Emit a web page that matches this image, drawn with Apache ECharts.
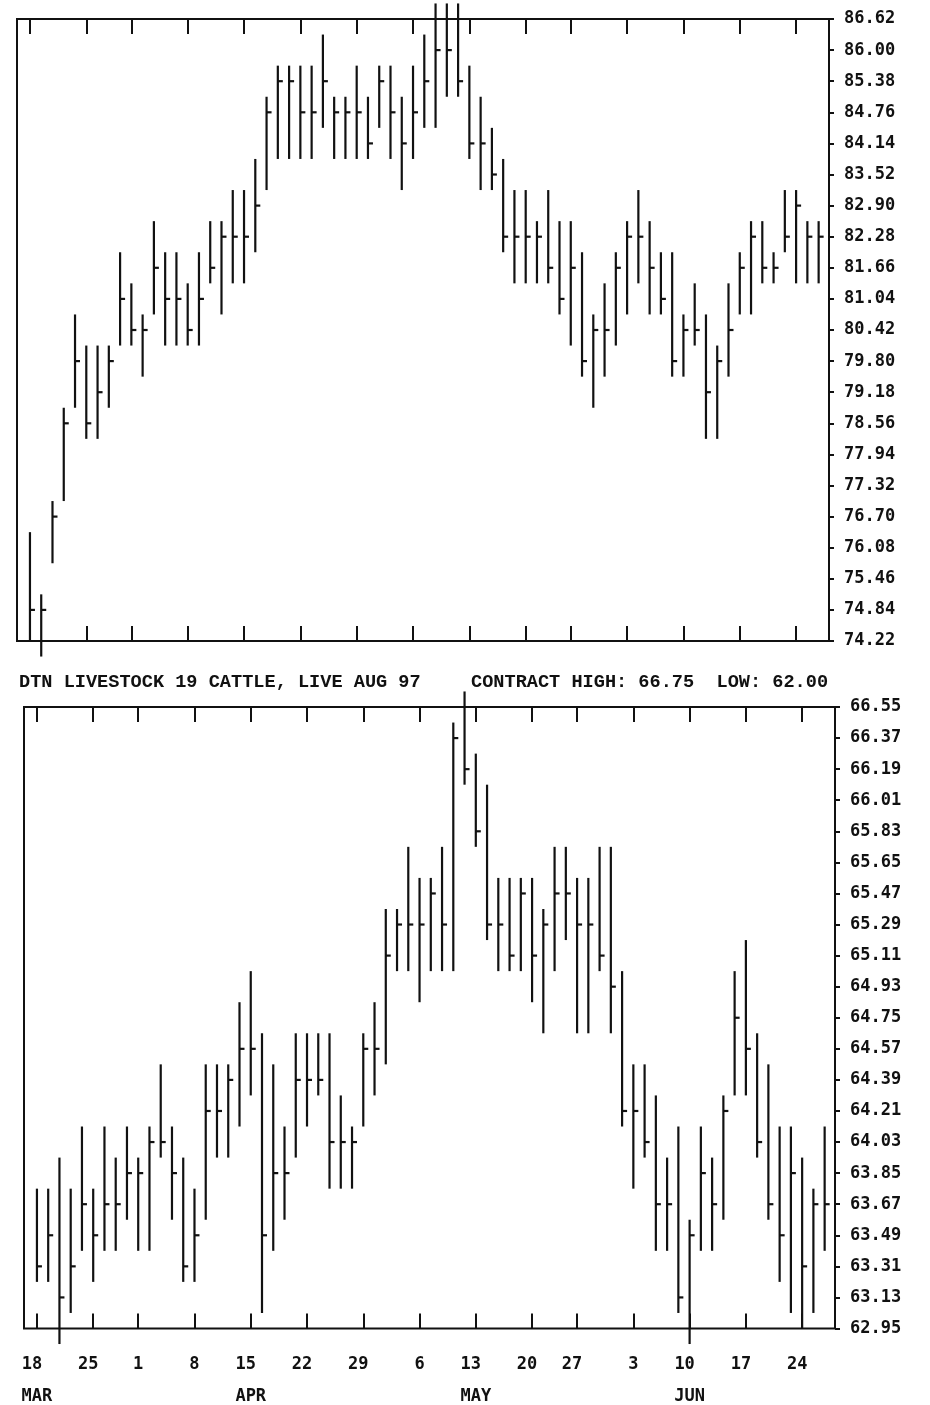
<!DOCTYPE html>
<html>
<head>
<meta charset="utf-8">
<script src="https://cdn.jsdelivr.net/npm/echarts@6/dist/echarts.min.js"></script>
</head>
<body style="margin:0;background:#fff">
<div id="main" style="width:930px;height:1405px"></div>
<script>
// trading days 18 Mar - 26 Jun 1997 (index 0..70), weekly ticks on Tuesdays
var tickIndex = [0, 5, 9, 14, 19, 24, 29, 34, 39, 44, 48, 53, 58, 63, 68];
var tickDay = ['18', '25', '1', '8', '15', '22', '29', '6', '13', '20', '27', '3', '10', '17', '24'];
var tickMonth = ['MAR', '', '', '', 'APR', '', '', '', 'MAY', '', '', '', 'JUN', '', ''];

var topTicks = [74.22, 74.84, 75.46, 76.08, 76.70, 77.32, 77.94, 78.56, 79.18, 79.80, 80.42,
  81.04, 81.66, 82.28, 82.90, 83.52, 84.14, 84.76, 85.38, 86.00, 86.62];
var bottomTicks = [62.95, 63.13, 63.31, 63.49, 63.67, 63.85, 64.03, 64.21, 64.39, 64.57, 64.75,
  64.93, 65.11, 65.29, 65.47, 65.65, 65.83, 66.01, 66.19, 66.37, 66.55];

// upper chart
var topHigh = [76.39, 75.15, 77.01, 78.87, 80.73, 80.11, 80.11, 80.11, 81.97, 81.35,
  80.73, 82.59, 81.97, 81.97, 81.35, 81.97, 82.59, 82.59, 83.21, 83.21,
  83.83, 85.07, 85.69, 85.69, 85.69, 85.69, 86.31, 85.07, 85.07, 85.69,
  85.07, 85.69, 85.69, 85.07, 85.69, 86.31, 86.93, 86.93, 86.93, 85.69,
  85.07, 84.45, 83.83, 83.21, 83.21, 82.59, 83.21, 82.59, 82.59, 81.97,
  80.73, 81.35, 81.97, 82.59, 83.21, 82.59, 81.97, 81.97, 80.73, 81.35,
  80.73, 80.11, 81.35, 81.97, 82.59, 82.59, 81.97, 83.21, 83.21, 82.59, 82.59];
var topLow = [74.22, 73.91, 75.77, 77.01, 78.87, 78.25, 78.25, 78.87, 80.11, 80.11,
  79.49, 80.73, 80.11, 80.11, 80.11, 80.11, 81.35, 80.73, 81.35, 81.35,
  81.97, 83.21, 83.83, 83.83, 83.83, 83.83, 84.45, 83.83, 83.83, 83.83,
  83.83, 84.45, 83.83, 83.21, 83.83, 84.45, 84.45, 85.07, 85.07, 83.83,
  83.21, 83.21, 81.97, 81.35, 81.35, 81.35, 81.35, 80.73, 80.11, 79.49,
  78.87, 79.49, 80.11, 80.73, 81.35, 80.73, 80.73, 79.49, 79.49, 80.11,
  78.25, 78.25, 79.49, 80.73, 80.73, 81.35, 81.35, 81.97, 81.35, 81.35, 81.35];
var topClose = [74.84, 74.84, 76.70, 78.56, 79.80, 78.56, 79.18, 79.80, 81.04, 80.42,
  80.42, 81.66, 81.04, 81.04, 80.42, 81.04, 81.66, 82.28, 82.28, 82.28,
  82.90, 84.76, 85.38, 85.38, 84.76, 84.76, 85.38, 84.76, 84.76, 84.76,
  84.14, 85.38, 84.76, 84.14, 84.76, 85.38, 86.00, 86.00, 85.38, 84.14,
  84.14, 83.52, 82.28, 82.28, 82.28, 82.28, 81.66, 81.04, 81.66, 79.80,
  80.42, 80.42, 81.66, 82.28, 82.28, 81.66, 81.04, 79.80, 80.42, 80.42,
  79.18, 79.80, 80.42, 81.66, 82.28, 81.66, 81.66, 82.28, 82.90, 82.28, 82.28];

// lower chart: live cattle Aug 97
var bottomHigh = [63.76, 63.76, 63.94, 63.76, 64.12, 63.76, 64.12, 63.94, 64.12, 63.94,
  64.12, 64.48, 64.12, 63.94, 63.76, 64.48, 64.48, 64.48, 64.84, 65.02,
  64.66, 64.48, 64.12, 64.66, 64.66, 64.66, 64.66, 64.30, 64.12, 64.66,
  64.84, 65.38, 65.38, 65.74, 65.56, 65.56, 65.74, 66.46, 66.64, 66.28,
  66.10, 65.56, 65.56, 65.56, 65.56, 65.38, 65.74, 65.74, 65.56, 65.56,
  65.74, 65.74, 65.02, 64.48, 64.48, 64.30, 63.94, 64.12, 63.58, 64.12,
  63.94, 64.30, 65.02, 65.20, 64.66, 64.48, 64.12, 64.12, 63.94, 63.76, 64.12];
var bottomLow = [63.22, 63.22, 62.86, 63.04, 63.40, 63.22, 63.40, 63.40, 63.58, 63.40,
  63.40, 63.94, 63.58, 63.22, 63.22, 63.58, 63.94, 63.94, 64.12, 64.30,
  63.04, 63.40, 63.58, 63.94, 64.12, 64.30, 63.76, 63.76, 63.76, 64.12,
  64.30, 64.48, 65.02, 65.02, 64.84, 65.02, 65.02, 65.02, 66.10, 65.74,
  65.20, 65.02, 65.02, 65.02, 64.84, 64.66, 65.02, 65.20, 64.66, 64.66,
  65.02, 64.66, 64.12, 63.76, 63.94, 63.40, 63.40, 63.04, 62.86, 63.40,
  63.40, 63.58, 64.30, 64.30, 63.94, 63.58, 63.22, 63.04, 62.95, 63.04, 63.40];
var bottomClose = [63.31, 63.49, 63.13, 63.31, 63.67, 63.49, 63.67, 63.67, 63.85, 63.85,
  64.03, 64.03, 63.85, 63.31, 63.49, 64.21, 64.21, 64.39, 64.57, 64.57,
  63.49, 63.85, 63.85, 64.39, 64.39, 64.39, 64.03, 64.03, 64.03, 64.57,
  64.57, 65.11, 65.29, 65.29, 65.29, 65.47, 65.29, 66.37, 66.19, 65.83,
  65.29, 65.29, 65.11, 65.47, 65.11, 65.29, 65.47, 65.47, 65.29, 65.29,
  65.11, 64.93, 64.21, 64.21, 64.03, 63.67, 63.67, 63.13, 63.49, 63.85,
  63.67, 64.21, 64.75, 64.57, 64.03, 63.67, 63.49, 63.85, 63.31, 63.67, 63.67];

var ink = '#111';
var mono = 'DejaVu Sans Mono';

function hlc(high, low, close) {
  return high.map(function (h, i) { return [i, h, low[i], close[i]]; });
}

// vertical high-low line with the close tick on the right
function renderBar(params, api) {
  var x = api.value(0);
  var hi = api.coord([x, api.value(1)]);
  var lo = api.coord([x, api.value(2)]);
  var cl = api.coord([x, api.value(3)]);
  return {
    type: 'group',
    children: [
      { type: 'line', shape: { x1: hi[0], y1: hi[1], x2: lo[0], y2: lo[1] }, style: { stroke: ink, lineWidth: 2.2 } },
      { type: 'line', shape: { x1: cl[0], y1: cl[1], x2: cl[0] + 5, y2: cl[1] }, style: { stroke: ink, lineWidth: 2.2 } }
    ]
  };
}

function weekAxis(grid, pos, withLabels) {
  var ax = {
    type: 'value', gridIndex: grid, position: pos, min: -1.15, max: 70.92,
    axisLine: { show: false, onZero: false },
    splitLine: { show: false },
    axisTick: { show: true, inside: true, length: 15, customValues: tickIndex, lineStyle: { color: ink, width: 2 } },
    axisLabel: { show: false }
  };
  if (withLabels) {
    ax.axisLabel = {
      show: true, customValues: tickIndex, margin: 20, color: ink,
      formatter: function (v) {
        var k = tickIndex.indexOf(Math.round(v));
        if (k < 0) return '';
        var d = tickDay[k];
        var s = (d.length > 1 ? '{d2|' : '{d1|') + d + '}';
        if (tickMonth[k]) s += '\n{m|' + tickMonth[k] + '}';
        return s;
      },
      rich: {
        d2: { fontFamily: mono, fontWeight: 'bold', fontSize: 17, lineHeight: 32, color: ink, padding: [0, 10, 0, 0] },
        d1: { fontFamily: mono, fontWeight: 'bold', fontSize: 17, lineHeight: 32, color: ink },
        m: { fontFamily: mono, fontWeight: 'bold', fontSize: 17, lineHeight: 32, color: ink }
      }
    };
  }
  return ax;
}

function priceAxis(grid, ticks) {
  return {
    type: 'value', gridIndex: grid, position: 'right',
    min: ticks[0], max: ticks[ticks.length - 1],
    axisLine: { show: false, onZero: false },
    splitLine: { show: false },
    axisTick: { show: true, inside: false, length: 5, customValues: ticks, lineStyle: { color: ink, width: 2 } },
    axisLabel: {
      customValues: ticks, margin: 15, color: ink,
      fontFamily: mono, fontWeight: 'bold', fontSize: 17,
      formatter: function (v) { return v.toFixed(2); }
    }
  };
}

var myChart = echarts.init(document.getElementById('main'));
var option = {
  backgroundColor: '#fff',
  animation: false,
  title: [
    { text: 'DTN LIVESTOCK 19 CATTLE, LIVE AUG 97', left: 14, top: 668,
      textStyle: { fontFamily: 'Liberation Mono', fontWeight: 'bold', fontSize: 18.6, color: ink } },
    { text: 'CONTRACT HIGH: 66.75  LOW: 62.00', left: 466, top: 668,
      textStyle: { fontFamily: 'Liberation Mono', fontWeight: 'bold', fontSize: 18.6, color: ink } }
  ],
  grid: [
    { left: 17, top: 19, width: 812, height: 622, show: true, borderColor: ink, borderWidth: 2, backgroundColor: 'transparent' },
    { left: 24, top: 707, width: 811, height: 622, show: true, borderColor: ink, borderWidth: 2, backgroundColor: 'transparent' }
  ],
  xAxis: [
    weekAxis(0, 'bottom', false),
    weekAxis(0, 'top', false),
    weekAxis(1, 'bottom', true),
    weekAxis(1, 'top', false)
  ],
  yAxis: [
    priceAxis(0, topTicks),
    priceAxis(1, bottomTicks)
  ],
  series: [
    { type: 'custom', xAxisIndex: 0, yAxisIndex: 0, clip: false, renderItem: renderBar,
      encode: { x: 0, y: [1, 2, 3] }, data: hlc(topHigh, topLow, topClose) },
    { type: 'custom', xAxisIndex: 2, yAxisIndex: 1, clip: false, renderItem: renderBar,
      encode: { x: 0, y: [1, 2, 3] }, data: hlc(bottomHigh, bottomLow, bottomClose) }
  ]
};
myChart.setOption(option);
</script>
</body>
</html>
